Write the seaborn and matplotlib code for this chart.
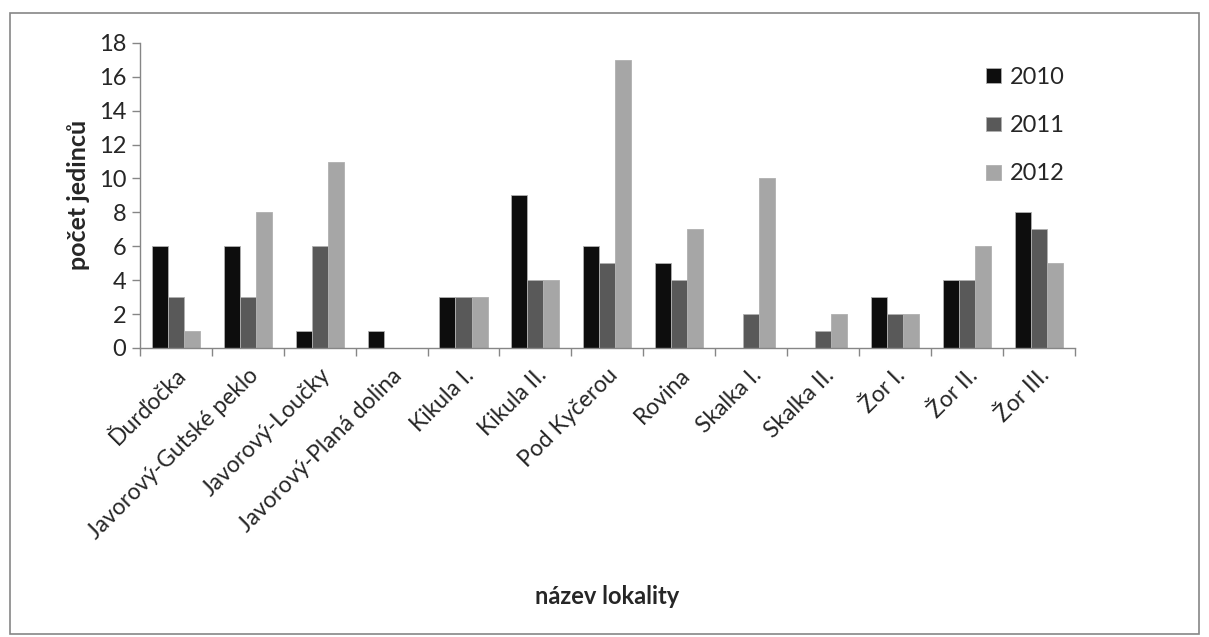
import numpy as np
import pandas as pd
import matplotlib
matplotlib.use("Agg")
import matplotlib.pyplot as plt
import seaborn as sns
from matplotlib.patches import Rectangle

locality = ["Ďurďočka", "Javorový-Gutské peklo", "Javorový-Loučky",
            "Javorový-Planá dolina", "Kikula I.", "Kikula II.", "Pod Kyčerou",
            "Rovina", "Skalka I.", "Skalka II.", "Žor I.", "Žor II.", "Žor III."]
years = ["2010", "2011", "2012"]
y2010 = [6, 6, 1, 1, 3, 9, 6, 5, 0, 0, 3, 4, 8]
y2011 = [3, 3, 6, 0, 3, 4, 5, 4, 2, 1, 2, 4, 7]
y2012 = [1, 8, 11, 0, 3, 4, 17, 7, 10, 2, 2, 6, 5]
colors = ["#0d0d0d", "#595959", "#a6a6a6"]

df = pd.DataFrame({"lokalita": locality * 3,
                   "rok": [y for y in years for _ in locality],
                   "pocet": y2010 + y2011 + y2012})

sns.set_style("white")
plt.rcParams["font.family"] = ["Lato", "DejaVu Sans"]

fig = plt.figure(figsize=(12.09, 6.37), dpi=100)
ax = fig.add_axes([0.1158, 0.4537, 0.773, 0.479])

sns.barplot(data=df, x="lokalita", y="pocet", hue="rok", palette=colors,
            width=0.67, edgecolor="#b0b0b0", linewidth=0.6, ax=ax, saturation=1)

grey = "#868686"
ax.set_xlim(-0.5, len(locality) - 0.5)
ax.set_ylim(0, 18)
ax.set_yticks(range(0, 19, 2))
ax.tick_params(axis="y", labelsize=17, length=6, width=1, color=grey,
               direction="out", left=True, pad=4)
ax.set_xticks(range(len(locality)))
ax.set_xticklabels(locality, rotation=45, ha="right", rotation_mode="anchor",
                   fontsize=16.5)
ax.tick_params(axis="x", which="major", length=0, pad=12)
ax.set_xticks(np.arange(-0.5, len(locality)), minor=True)
ax.tick_params(axis="x", which="minor", length=6, width=1, color=grey,
               direction="out", bottom=True)

for side in ["top", "right"]:
    ax.spines[side].set_visible(False)
for side in ["left", "bottom"]:
    ax.spines[side].set_color(grey)
    ax.spines[side].set_linewidth(1)

ax.set_xlabel("název lokality", fontsize=17, fontweight="bold", labelpad=30)
ax.set_ylabel("počet jedinců", fontsize=18, fontweight="bold", labelpad=6)

handles, labels = ax.get_legend_handles_labels()
ax.legend(handles, labels, loc="upper left", bbox_to_anchor=(0.883, 0.99),
          frameon=False, fontsize=17, handlelength=0.6, handleheight=0.6,
          handletextpad=0.4, labelspacing=1.15)

fig.patches.append(Rectangle((0.008, 0.005), 0.984, 0.975,
                             transform=fig.transFigure, fill=False,
                             edgecolor=grey, linewidth=1.2))

fig.savefig("out.png", dpi=100)
